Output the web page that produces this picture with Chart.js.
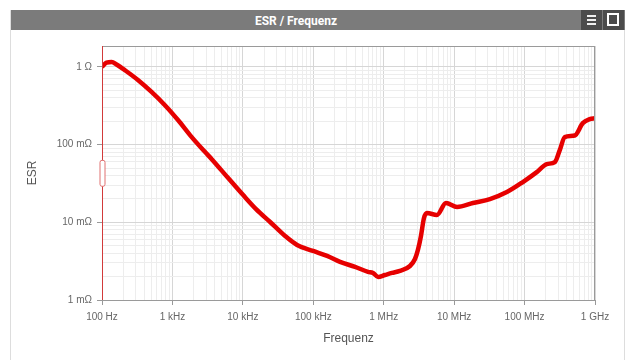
<!DOCTYPE html>
<html>
<head>
<meta charset="utf-8">
<script src="https://cdn.jsdelivr.net/npm/chart.js@4"></script>
<style>
  html, body { margin: 0; padding: 0; background: #fff; }
  body { width: 625px; height: 360px; position: relative; overflow: hidden; font-family: "Liberation Sans", Arial, sans-serif; }
  #panel { position: absolute; left: 10px; top: 10px; width: 613px; height: 350px; border-left: 1px solid #ddd; border-right: 1px solid #ddd; border-top: 1px solid #e4e4e4; }
  #header { position: absolute; left: 11px; top: 10px; width: 614px; height: 20px; background: #7b7b7b; }
  #header .title { position: absolute; left: 0; width: 570px; top: 1px; text-align: center; color: #fff; font: bold 12px Roboto, "Liberation Sans", sans-serif; line-height: 20px; }
  #header .btn { position: absolute; top: 0; width: 21px; height: 20px; background: #4b4b4b; }
  #btn-menu { left: 570px; }
  #btn-max { left: 592px; }
  #btn-menu i { position: absolute; left: 6px; width: 9px; height: 2px; background: #eee; }
  #btn-max b { position: absolute; left: 4px; top: 3px; width: 12px; height: 13px; border: 2px solid #fff; box-sizing: border-box; }
  #wrap { position: absolute; left: 11px; top: 31px; width: 612px; height: 329px; }
</style>
</head>
<body>
<div id="panel"></div>
<div id="header">
  <div class="title">ESR / Frequenz</div>
  <div class="btn" id="btn-menu"><i style="top:5px"></i><i style="top:9px"></i><i style="top:13px"></i></div>
  <div class="btn" id="btn-max"><b></b></div>
</div>
<div id="wrap"><canvas id="esrChart"></canvas></div>
<script>
// --- Data ---
const freqHz = [100, 116, 137, 161, 212, 327, 505, 783, 1208, 1866, 2891, 3670, 6190, 10100, 15400, 24400, 39800, 58900,
  99300, 157000, 240000, 392000, 599000, 705000, 830000, 1040000, 1310000, 1700000, 2360000, 2780000,
  3060000, 3380000, 3730000, 4110000, 5700000, 7650000, 11000000, 18500000, 32200000, 56100000,
  94600000, 149000000, 207000000, 269000000, 316000000, 372000000, 516000000, 671000000, 843000000, 1000000000];
const esrOhm = [1.0, 1.139, 1.16, 1.074, 0.907, 0.675, 0.477, 0.322, 0.206, 0.126, 0.0808, 0.0641, 0.0371, 0.0224, 0.0148, 0.0101, 0.00667, 0.00511,
  0.00428, 0.00369, 0.00309, 0.00267, 0.00230, 0.00223, 0.00198, 0.00210, 0.00223, 0.00237, 0.00274, 0.00337,
  0.00441, 0.00667, 0.01136, 0.0132, 0.0124, 0.0177, 0.0157, 0.0177, 0.0199, 0.0245,
  0.0330, 0.0443, 0.0562, 0.0596, 0.0849, 0.125, 0.131, 0.189, 0.213, 0.219];

// Tick labels (decades only)
const xTickValues = [1e2, 1e3, 1e4, 1e5, 1e6, 1e7, 1e8, 1e9];
const xTickLabels = ['100 Hz', '1 kHz', '10 kHz', '100 kHz', '1 MHz', '10 MHz', '100 MHz', '1 GHz'];
const yTickValues = [0.001, 0.01, 0.1, 1];
const yTickLabels = ['1 mΩ', '10 mΩ', '100 mΩ', '1 Ω'];

const xMin = 100, xMax = 1e9;
const yMin = 0.001, yMax = 1.86;

function isDecade(v) {
    const l = Math.log10(v);
    return Math.abs(l - Math.round(l)) < 1e-6;
}

// all 1..9 x 10^n values inside the range, for the minor grid
function logTicks(min, max) {
    const out = [];
    for (let e = Math.floor(Math.log10(min)); e <= Math.ceil(Math.log10(max)); e++) {
        for (let k = 1; k <= 9; k++) {
            const v = k * Math.pow(10, e);
            if (v >= min * 0.999999 && v <= max * 1.000001) out.push(v);
        }
    }
    return out;
}

function labelFor(values, labels, v) {
    for (let i = 0; i < values.length; i++) {
        if (Math.abs(values[i] - v) / values[i] < 1e-6) return labels[i];
    }
    return '';
}

const gridColor = ctx => (ctx.tick && isDecade(ctx.tick.value)) ? '#d6d6d6' : '#ededed';
const tickColor = ctx => (ctx.tick && isDecade(ctx.tick.value)) ? '#999' : 'rgba(0,0,0,0)';

// frame around plot + left range marker
const framePlugin = {
    id: 'frame',
    afterDraw(chart) {
        const a = chart.chartArea;
        const c = chart.ctx;
        c.save();
        c.strokeStyle = '#9a9a9a';
        c.lineWidth = 1;
        c.strokeRect(a.left + 0.5, a.top + 0.5, a.right - a.left - 1, a.bottom - a.top);
        c.strokeStyle = '#d23a3a';
        c.beginPath();
        c.moveTo(a.left + 0.5, a.top);
        c.lineTo(a.left + 0.5, a.bottom);
        c.stroke();
        // small drag handle
        const hy = a.top + (a.bottom - a.top) * 0.45;
        c.fillStyle = '#fff';
        c.strokeStyle = '#e07070';
        c.beginPath();
        c.roundRect(a.left - 2, hy, 5, 26, 2);
        c.fill();
        c.stroke();
        c.restore();
    }
};

const ctx = document.getElementById('esrChart').getContext('2d');
new Chart(ctx, {
    type: 'line',
    data: {
        datasets: [{
            label: 'ESR',
            data: freqHz.map((f, i) => ({ x: f, y: esrOhm[i] })),
            borderColor: '#e60000',
            borderWidth: 4.5,
            pointRadius: 0,
            fill: false,
            cubicInterpolationMode: 'monotone'
        }]
    },
    options: {
        responsive: true,
        maintainAspectRatio: false,
        animation: false,
        layout: { padding: { left: 10, top: 15, right: 28, bottom: 10 } },
        plugins: { legend: { display: false }, tooltip: { enabled: false } },
        scales: {
            x: {
                type: 'logarithmic',
                min: xMin, max: xMax,
                afterBuildTicks: s => { s.ticks = logTicks(xMin, xMax).map(v => ({ value: v })); },
                afterFit: s => { s.height = 50; },
                grid: { color: gridColor, tickColor: tickColor, tickLength: 5 },
                border: { color: '#9a9a9a' },
                ticks: {
                    autoSkip: false, maxRotation: 0, padding: 6,
                    color: '#666', font: { family: '"Liberation Sans", Arial', size: 10 },
                    callback: v => labelFor(xTickValues, xTickLabels, v)
                },
                title: { display: true, text: 'Frequenz', color: '#555', font: { family: '"Liberation Sans", Arial', size: 12 } }
            },
            y: {
                type: 'logarithmic',
                min: yMin, max: yMax,
                afterBuildTicks: s => { s.ticks = logTicks(yMin, yMax).map(v => ({ value: v })); },
                afterFit: s => { s.width = 81; },
                grid: { color: gridColor, tickColor: tickColor, tickLength: 5 },
                border: { color: '#9a9a9a' },
                ticks: {
                    autoSkip: false, padding: 5,
                    color: '#666', font: { family: '"Liberation Sans", Arial', size: 10 },
                    callback: v => labelFor(yTickValues, yTickLabels, v)
                },
                title: { display: true, text: 'ESR', color: '#555', font: { family: '"Liberation Sans", Arial', size: 12 } }
            }
        }
    },
    plugins: [framePlugin]
});
</script>
</body>
</html>
